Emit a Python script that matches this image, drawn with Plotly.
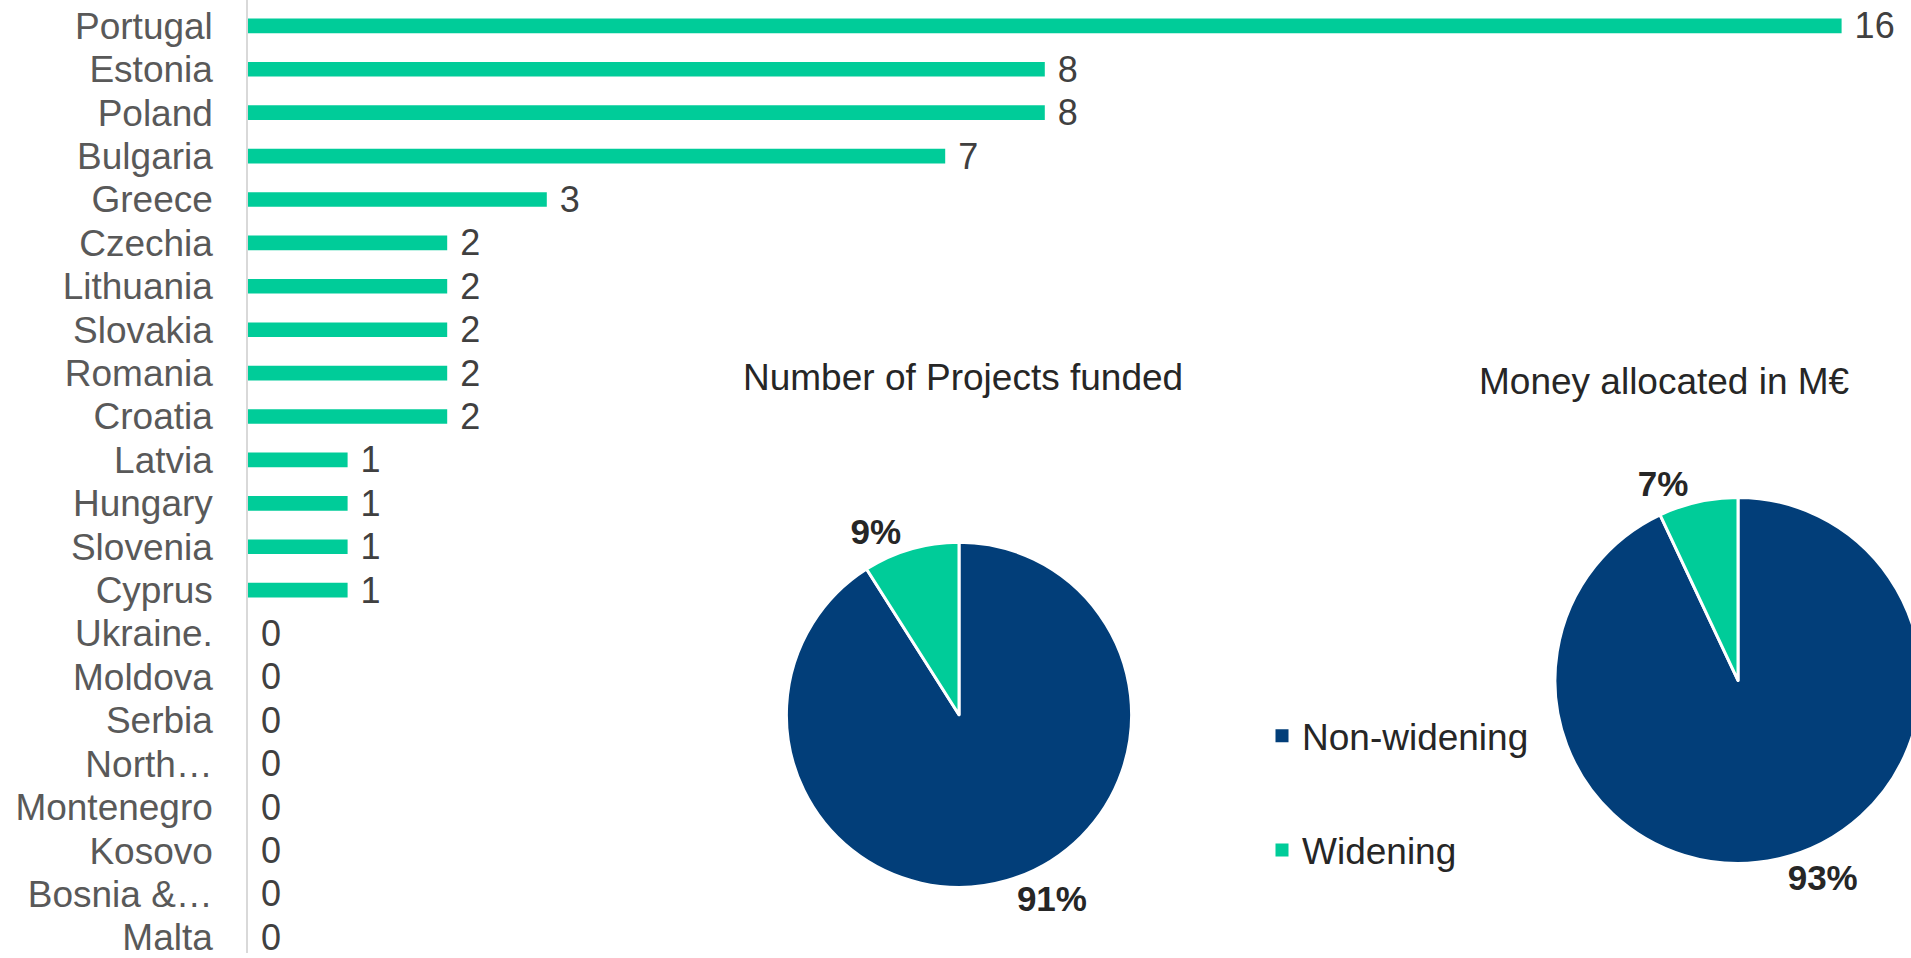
import plotly.graph_objects as go

countries = ["Portugal", "Estonia", "Poland", "Bulgaria", "Greece", "Czechia", "Lithuania",
             "Slovakia", "Romania", "Croatia", "Latvia", "Hungary", "Slovenia", "Cyprus",
             "Ukraine.", "Moldova", "Serbia", "North…", "Montenegro", "Kosovo", "Bosnia &…", "Malta"]
projects = [16, 8, 8, 7, 3, 2, 2, 2, 2, 2, 1, 1, 1, 1, 0, 0, 0, 0, 0, 0, 0, 0]

pie_labels = ["Non-widening", "Widening"]
projects_share = [91, 9]
money_share = [93, 7]

pie_titles = ["Number of Projects funded", "Money allocated in M€"]

GREEN = "#00CC99"
NAVY = "#023E79"
FONT = "Liberation Sans, Arial, sans-serif"

W, H = 1940, 958   # canvas slightly wider than the window so the right pie is cropped like the original

fig = go.Figure()

fig.add_trace(go.Bar(
    x=projects, y=countries, orientation="h",
    marker=dict(color=GREEN, line=dict(width=0)),
    text=projects, texttemplate="\u00a0%{x}", textposition="outside",
    constraintext="none",
    textfont=dict(family=FONT, size=36, color="#404040"),
    cliponaxis=False, showlegend=False, hoverinfo="skip",
))

pie_common = dict(
    labels=pie_labels, sort=False, direction="clockwise", rotation=0,
    marker=dict(colors=[NAVY, GREEN], line=dict(color="white", width=3)),
    textposition="outside", texttemplate="<b>%{value}%</b>",
    textfont=dict(family=FONT, size=35, color="#262626"),
    showlegend=False, hoverinfo="skip",
)
fig.add_trace(go.Pie(values=projects_share,
                     domain=dict(x=[785.5 / W, 1132.5 / W], y=[66 / H, 413 / H]), **pie_common))
fig.add_trace(go.Pie(values=money_share,
                     domain=dict(x=[1554 / W, 1922 / W], y=[90 / H, 458 / H]), **pie_common))

# legend entries
for lab, col, grp in zip(pie_labels, [NAVY, GREEN], ["a", "b"]):
    fig.add_trace(go.Scatter(x=[None], y=[None], mode="markers", name=lab, legendgroup=grp,
                             marker=dict(symbol="square", size=13, color=col)))

fig.add_annotation(text=pie_titles[0], x=963 / W, y=1 - 379 / H, xref="paper", yref="paper",
                   xanchor="center", yanchor="middle",
                   showarrow=False, font=dict(family=FONT, size=37, color="#262626"))
fig.add_annotation(text=pie_titles[1], x=1664 / W, y=1 - 383 / H, xref="paper", yref="paper",
                   xanchor="center", yanchor="middle",
                   showarrow=False, font=dict(family=FONT, size=37, color="#262626"))

fig.update_layout(
    width=W, height=H,
    margin=dict(l=0, r=0, t=0, b=0),
    paper_bgcolor="white", plot_bgcolor="white",
    bargap=0.663,
    font=dict(family=FONT),
    xaxis=dict(domain=[248 / W, 1], range=[0, (W - 248) / 99.6], showgrid=False, zeroline=False,
               showticklabels=False, showline=False, fixedrange=True),
    yaxis=dict(type="category", range=[21.36, -0.596], showgrid=False, zeroline=False,
               tickmode="array", tickvals=countries, ticktext=countries,
               showline=True, linecolor="#D9D9D9", linewidth=1.5,
               ticks="", ticklabelstandoff=26,
               tickfont=dict(family=FONT, size=37, color="#595959")),
    legend=dict(x=1262 / W, xanchor="left", y=1 - 709 / H, yanchor="top",
                traceorder="grouped", tracegroupgap=63,
                font=dict(family=FONT, size=37, color="#262626"),
                bgcolor="rgba(0,0,0,0)"),
)

fig.write_html("out.html", config={"displayModeBar": False},
               post_script="document.body.style.margin='0';document.body.style.overflow='hidden';")
